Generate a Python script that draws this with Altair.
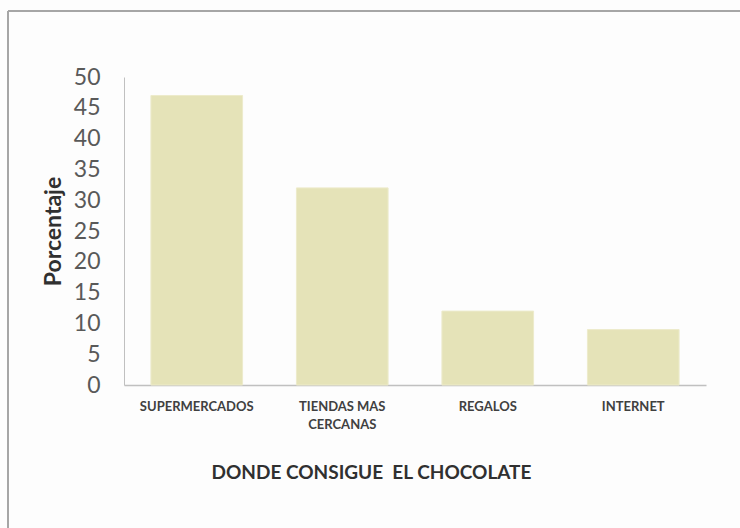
import altair as alt
import pandas as pd

categories = ["SUPERMERCADOS", "TIENDAS MAS CERCANAS", "REGALOS", "INTERNET"]
values = [47, 32, 12, 9]
y_ticks = [0, 5, 10, 15, 20, 25, 30, 35, 40, 45, 50]

df = pd.DataFrame({"lugar": categories, "porcentaje": values})

W, H = 582, 308
PAD_L, PAD_T = 124, 77

bars = alt.Chart(df).mark_bar(color="#E5E3B8", stroke="#EDEBCB", strokeWidth=1).encode(
    x=alt.X(
        "lugar:N",
        sort=categories,
        scale=alt.Scale(paddingInner=0.37, paddingOuter=0.185),
        axis=alt.Axis(
            title="DONDE CONSIGUE\u00a0\u00a0EL CHOCOLATE",
            labelAngle=0,
            labelFont="Lato",
            labelFontSize=13,
            labelFontWeight="bold",
            labelColor="#404040",
            labelPadding=15,
            labelLineHeight=18,
            labelExpr="datum.label == 'TIENDAS MAS CERCANAS' ? ['TIENDAS MAS', 'CERCANAS'] : datum.label",
            ticks=False,
            domainColor="#C0C0C0",
            domainWidth=1.5,
            titleFont="Lato",
            titleFontSize=19,
            titleFontWeight="bold",
            titleColor="#303030",
            titleX=247,
            titleY=93,
            titleBaseline="alphabetic",
            titleAlign="center",
        ),
    ),
    y=alt.Y(
        "porcentaje:Q",
        scale=alt.Scale(domain=[0, 50], nice=False),
        axis=alt.Axis(
            title="Porcentaje",
            values=y_ticks,
            grid=False,
            ticks=False,
            labelFont="Lato",
            labelFontSize=23,
            labelColor="#595959",
            labelPadding=24,
            domainColor="#C0C0C0",
            domainWidth=1,
            titleFont="Lato",
            titleFontSize=23,
            titleFontWeight="bold",
            titleColor="#303030",
            titlePadding=8,
        ),
    ),
)

border_data = alt.Data(values=[{}])
left_border = alt.Chart(border_data).mark_rule(color="#A6A6A6", strokeWidth=2).encode(
    x=alt.value(8 - PAD_L), y=alt.value(11 - PAD_T), y2=alt.value(528 - PAD_T)
)
top_border = alt.Chart(border_data).mark_rule(color="#A6A6A6", strokeWidth=2).encode(
    y=alt.value(11 - PAD_T), x=alt.value(8 - PAD_L), x2=alt.value(740 - PAD_L)
)

chart = alt.layer(bars, left_border, top_border).properties(
    width=W,
    height=H,
    autosize=alt.AutoSizeParams(type="none"),
    padding={"left": PAD_L, "top": PAD_T, "right": 740 - PAD_L - W, "bottom": 528 - PAD_T - H},
    background="#FDFDFD",
).configure_view(stroke=None)

chart.save("out.html", embed_options={"renderer": "svg", "actions": False})
